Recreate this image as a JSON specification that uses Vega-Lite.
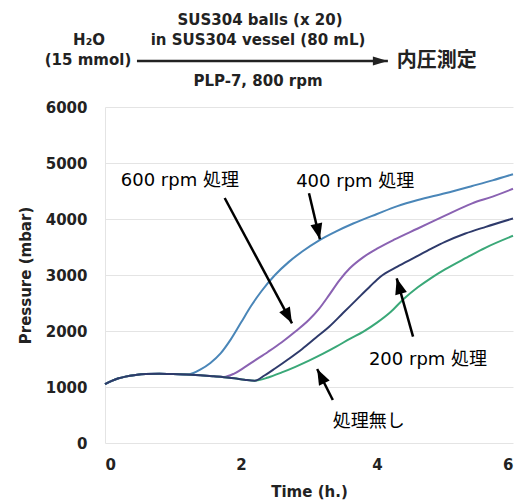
{
  "$schema": "https://vega.github.io/schema/vega-lite/v6.json",
  "width": 408,
  "height": 336,
  "autosize": {"type": "none"},
  "padding": {"left": 105, "top": 107, "right": 18, "bottom": 61},
  "background": "white",
  "config": {
    "view": {"stroke": null},
    "axis": {
      "labelFont": "DejaVu Sans",
      "labelFontWeight": "bold",
      "labelFontSize": 15,
      "labelColor": "#222",
      "titleFont": "DejaVu Sans",
      "titleFontWeight": "bold",
      "titleFontSize": 15,
      "titleColor": "#222",
      "tickSize": 0,
      "gridColor": "#e4e4e4",
      "domainColor": "#e4e4e4"
    }
  },
  "datasets": {
    "curves": [
      {"s": "400", "t": 0, "p": 1050}, {"s": "400", "t": 0.1, "p": 1110}, {"s": "400", "t": 0.2, "p": 1155}, {"s": "400", "t": 0.3, "p": 1185}, {"s": "400", "t": 0.45, "p": 1215}, {"s": "400", "t": 0.6, "p": 1232}, {"s": "400", "t": 0.8, "p": 1238}, {"s": "400", "t": 1.0, "p": 1232}, {"s": "400", "t": 1.2, "p": 1222},
      {"s": "400", "t": 1.3, "p": 1250}, {"s": "400", "t": 1.4, "p": 1310}, {"s": "400", "t": 1.55, "p": 1430}, {"s": "400", "t": 1.7, "p": 1600}, {"s": "400", "t": 1.85, "p": 1850}, {"s": "400", "t": 2.0, "p": 2150}, {"s": "400", "t": 2.15, "p": 2450}, {"s": "400", "t": 2.3, "p": 2710}, {"s": "400", "t": 2.5, "p": 3000}, {"s": "400", "t": 2.7, "p": 3230}, {"s": "400", "t": 2.9, "p": 3420}, {"s": "400", "t": 3.15, "p": 3620}, {"s": "400", "t": 3.4, "p": 3780}, {"s": "400", "t": 3.65, "p": 3920}, {"s": "400", "t": 4.0, "p": 4090}, {"s": "400", "t": 4.3, "p": 4230}, {"s": "400", "t": 4.6, "p": 4340}, {"s": "400", "t": 5.0, "p": 4460}, {"s": "400", "t": 5.4, "p": 4590}, {"s": "400", "t": 5.7, "p": 4690}, {"s": "400", "t": 6.0, "p": 4800},

      {"s": "600", "t": 0, "p": 1050}, {"s": "600", "t": 0.1, "p": 1110}, {"s": "600", "t": 0.2, "p": 1155}, {"s": "600", "t": 0.3, "p": 1185}, {"s": "600", "t": 0.45, "p": 1215}, {"s": "600", "t": 0.6, "p": 1232}, {"s": "600", "t": 0.8, "p": 1238}, {"s": "600", "t": 1.0, "p": 1232}, {"s": "600", "t": 1.2, "p": 1222}, {"s": "600", "t": 1.4, "p": 1208}, {"s": "600", "t": 1.6, "p": 1190}, {"s": "600", "t": 1.75, "p": 1180},
      {"s": "600", "t": 1.9, "p": 1240}, {"s": "600", "t": 2.05, "p": 1350}, {"s": "600", "t": 2.2, "p": 1470}, {"s": "600", "t": 2.4, "p": 1630}, {"s": "600", "t": 2.6, "p": 1800}, {"s": "600", "t": 2.8, "p": 1990}, {"s": "600", "t": 3.0, "p": 2200}, {"s": "600", "t": 3.15, "p": 2400}, {"s": "600", "t": 3.3, "p": 2650}, {"s": "600", "t": 3.45, "p": 2910}, {"s": "600", "t": 3.6, "p": 3120}, {"s": "600", "t": 3.8, "p": 3320}, {"s": "600", "t": 4.0, "p": 3470}, {"s": "600", "t": 4.25, "p": 3630}, {"s": "600", "t": 4.6, "p": 3830}, {"s": "600", "t": 5.0, "p": 4060}, {"s": "600", "t": 5.4, "p": 4280}, {"s": "600", "t": 5.7, "p": 4400}, {"s": "600", "t": 6.0, "p": 4540},

      {"s": "none", "t": 0, "p": 1050}, {"s": "none", "t": 0.1, "p": 1110}, {"s": "none", "t": 0.2, "p": 1155}, {"s": "none", "t": 0.3, "p": 1185}, {"s": "none", "t": 0.45, "p": 1215}, {"s": "none", "t": 0.6, "p": 1232}, {"s": "none", "t": 0.8, "p": 1238}, {"s": "none", "t": 1.0, "p": 1232}, {"s": "none", "t": 1.2, "p": 1222}, {"s": "none", "t": 1.4, "p": 1208}, {"s": "none", "t": 1.6, "p": 1190}, {"s": "none", "t": 1.75, "p": 1175}, {"s": "none", "t": 1.9, "p": 1155}, {"s": "none", "t": 2.05, "p": 1130}, {"s": "none", "t": 2.2, "p": 1112},
      {"s": "none", "t": 2.4, "p": 1170}, {"s": "none", "t": 2.6, "p": 1260}, {"s": "none", "t": 2.8, "p": 1360}, {"s": "none", "t": 3.0, "p": 1470}, {"s": "none", "t": 3.2, "p": 1590}, {"s": "none", "t": 3.4, "p": 1720}, {"s": "none", "t": 3.6, "p": 1860}, {"s": "none", "t": 3.8, "p": 1990}, {"s": "none", "t": 4.0, "p": 2150}, {"s": "none", "t": 4.2, "p": 2340}, {"s": "none", "t": 4.4, "p": 2580}, {"s": "none", "t": 4.6, "p": 2780}, {"s": "none", "t": 4.8, "p": 2950}, {"s": "none", "t": 5.0, "p": 3100}, {"s": "none", "t": 5.3, "p": 3300}, {"s": "none", "t": 5.6, "p": 3490}, {"s": "none", "t": 6.0, "p": 3700},

      {"s": "200", "t": 0, "p": 1050}, {"s": "200", "t": 0.1, "p": 1110}, {"s": "200", "t": 0.2, "p": 1155}, {"s": "200", "t": 0.3, "p": 1185}, {"s": "200", "t": 0.45, "p": 1215}, {"s": "200", "t": 0.6, "p": 1232}, {"s": "200", "t": 0.8, "p": 1238}, {"s": "200", "t": 1.0, "p": 1232}, {"s": "200", "t": 1.2, "p": 1222}, {"s": "200", "t": 1.4, "p": 1208}, {"s": "200", "t": 1.6, "p": 1190}, {"s": "200", "t": 1.75, "p": 1175}, {"s": "200", "t": 1.9, "p": 1155}, {"s": "200", "t": 2.05, "p": 1130}, {"s": "200", "t": 2.2, "p": 1112},
      {"s": "200", "t": 2.35, "p": 1210}, {"s": "200", "t": 2.5, "p": 1330}, {"s": "200", "t": 2.7, "p": 1500}, {"s": "200", "t": 2.9, "p": 1680}, {"s": "200", "t": 3.1, "p": 1880}, {"s": "200", "t": 3.3, "p": 2080}, {"s": "200", "t": 3.5, "p": 2320}, {"s": "200", "t": 3.7, "p": 2560}, {"s": "200", "t": 3.9, "p": 2800}, {"s": "200", "t": 4.05, "p": 2970}, {"s": "200", "t": 4.3, "p": 3150}, {"s": "200", "t": 4.55, "p": 3310}, {"s": "200", "t": 4.8, "p": 3470}, {"s": "200", "t": 5.0, "p": 3590}, {"s": "200", "t": 5.3, "p": 3740}, {"s": "200", "t": 5.6, "p": 3860}, {"s": "200", "t": 6.0, "p": 4010}
    ],
    "arrows": [
      {"lab": "600 rpm 処理", "t1": 1.76, "p1": 4375, "t2": 2.75, "p2": 2137, "ang": 152},
      {"lab": "400 rpm 処理", "t1": 3.0, "p1": 4459, "t2": 3.16, "p2": 3637, "ang": 167},
      {"lab": "200 rpm 処理", "t1": 4.53, "p1": 1899, "t2": 4.29, "p2": 2940, "ang": 344},
      {"lab": "処理無し", "t1": 3.35, "p1": 768, "t2": 3.12, "p2": 1321, "ang": 333}
    ],
    "labels": [
      {"lab": "600 rpm 処理", "t": 1.1, "p": 4680},
      {"lab": "400 rpm 処理", "t": 3.68, "p": 4660},
      {"lab": "200 rpm 処理", "t": 4.75, "p": 1480},
      {"lab": "処理無し", "t": 3.88, "p": 375}
    ],
    "scheme": [
      {"txt": "H₂O", "t": -0.235, "p": 7196},
      {"txt": "(15 mmol)", "t": -0.25, "p": 6839},
      {"txt": "SUS304 balls (x 20)", "t": 2.28, "p": 7554},
      {"txt": "in SUS304 vessel (80 mL)", "t": 2.25, "p": 7196},
      {"txt": "PLP-7, 800 rpm", "t": 2.25, "p": 6464}
    ],
    "product": [
      {"txt": "内圧測定", "t": 4.88, "p": 6821}
    ],
    "schemeArrow": [
      {"t1": 0.47, "p1": 6821, "t2": 4.16, "p2": 6821, "ang": 90}
    ]
  },
  "layer": [
    {
      "data": {"name": "curves"},
      "mark": {"type": "line", "interpolate": "monotone", "strokeWidth": 2},
      "encoding": {
        "x": {"field": "t", "type": "quantitative", "scale": {"domain": [0, 6], "nice": false},
              "axis": {"title": "Time (h.)", "values": [0, 2, 4, 6], "format": "d", "labelPadding": 14, "titlePadding": 12, "grid": false, "domain": false}},
        "y": {"field": "p", "type": "quantitative", "scale": {"domain": [0, 6000], "nice": false},
              "axis": {"title": "Pressure (mbar)", "values": [0, 1000, 2000, 3000, 4000, 5000, 6000], "format": "d", "labelPadding": 18, "titlePadding": 12, "grid": true, "domain": true}},
        "color": {"field": "s", "type": "nominal", "legend": null,
                  "scale": {"domain": ["400", "600", "none", "200"], "range": ["#4a86b8", "#8a62b2", "#3aa878", "#2e3a6b"]}},
        "order": {"field": "t", "type": "quantitative"}
      }
    },
    {
      "data": {"name": "arrows"},
      "mark": {"type": "rule", "strokeWidth": 2.5, "color": "#000"},
      "encoding": {
        "x": {"field": "t1", "type": "quantitative"},
        "y": {"field": "p1", "type": "quantitative"},
        "x2": {"field": "t2"},
        "y2": {"field": "p2"}
      }
    },
    {
      "data": {"name": "arrows"},
      "mark": {"type": "point", "filled": true, "opacity": 1, "color": "#000", "size": 1000, "shape": "M0,0L-0.38,1.0L0.38,1.0Z"},
      "encoding": {
        "x": {"field": "t2", "type": "quantitative"},
        "y": {"field": "p2", "type": "quantitative"},
        "angle": {"field": "ang", "type": "quantitative", "scale": null}
      }
    },
    {
      "data": {"name": "labels"},
      "mark": {"type": "text", "font": "DejaVu Sans, Noto Sans CJK JP", "fontSize": 18, "color": "#000", "align": "center", "baseline": "middle"},
      "encoding": {
        "x": {"field": "t", "type": "quantitative"},
        "y": {"field": "p", "type": "quantitative"},
        "text": {"field": "lab"}
      }
    },
    {
      "data": {"name": "scheme"},
      "mark": {"type": "text", "font": "DejaVu Sans", "fontWeight": "bold", "fontSize": 15, "color": "#222", "align": "center", "baseline": "middle"},
      "encoding": {
        "x": {"field": "t", "type": "quantitative"},
        "y": {"field": "p", "type": "quantitative"},
        "text": {"field": "txt"}
      }
    },
    {
      "data": {"name": "product"},
      "mark": {"type": "text", "font": "Noto Sans CJK JP", "fontWeight": "bold", "fontSize": 20, "color": "#222", "align": "center", "baseline": "middle"},
      "encoding": {
        "x": {"field": "t", "type": "quantitative"},
        "y": {"field": "p", "type": "quantitative"},
        "text": {"field": "txt"}
      }
    },
    {
      "data": {"name": "schemeArrow"},
      "mark": {"type": "rule", "strokeWidth": 2.5, "color": "#222"},
      "encoding": {
        "x": {"field": "t1", "type": "quantitative"},
        "y": {"field": "p1", "type": "quantitative"},
        "x2": {"field": "t2"},
        "y2": {"field": "p2"}
      }
    },
    {
      "data": {"name": "schemeArrow"},
      "mark": {"type": "point", "filled": true, "opacity": 1, "color": "#222", "size": 900, "shape": "M0,0L-0.3,1.0L0.3,1.0Z"},
      "encoding": {
        "x": {"field": "t2", "type": "quantitative"},
        "y": {"field": "p2", "type": "quantitative"},
        "angle": {"field": "ang", "type": "quantitative", "scale": null}
      }
    }
  ]
}
